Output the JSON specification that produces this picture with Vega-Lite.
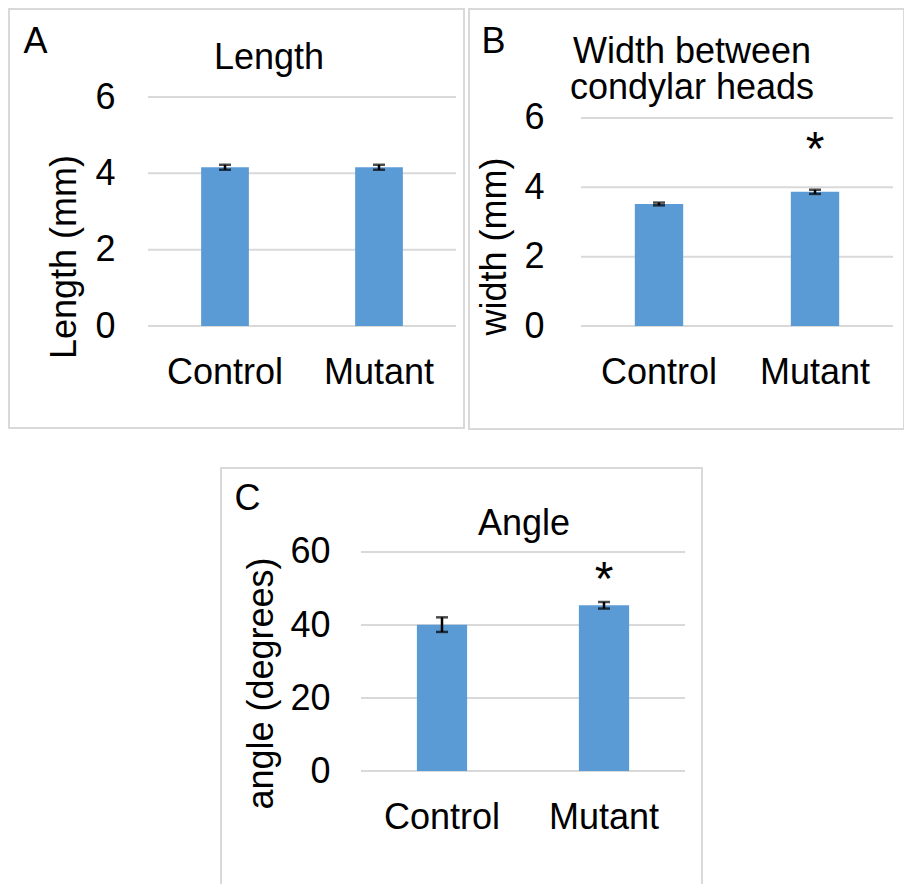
{
  "$schema": "https://vega.github.io/schema/vega-lite/v6.json",
  "padding": {"left": 8, "top": 8, "right": 0, "bottom": 0},
  "background": "white",
  "datasets": {
    "a": [{"group": "Control", "mean": 4.16, "err": 0.065}, {"group": "Mutant", "mean": 4.16, "err": 0.065}],
    "b": [{"group": "Control", "mean": 3.52, "err": 0.04, "sig": ""}, {"group": "Mutant", "mean": 3.87, "err": 0.06, "sig": "*"}],
    "c": [{"group": "Control", "mean": 40.1, "err": 2.0, "sig": ""}, {"group": "Mutant", "mean": 45.4, "err": 0.9, "sig": "*"}],
    "gridAB": [{"v": 0}, {"v": 2}, {"v": 4}, {"v": 6}],
    "gridC": [{"v": 0}, {"v": 20}, {"v": 40}, {"v": 60}]
  },
  "config": {
    "font": "Liberation Sans",
    "view": {"stroke": "#d9d9d9", "strokeWidth": 2},
    "axis": {"labelFontSize": 36, "titleFontSize": 36, "labelColor": "black", "titleColor": "black", "titleFontWeight": "normal", "domain": false, "ticks": false, "tickSize": 0, "labelPadding": 0, "grid": false, "labelFont": "Liberation Sans", "titleFont": "Liberation Sans"},
    "title": {"fontSize": 36, "fontWeight": "normal", "color": "black", "font": "Liberation Sans", "anchor": "middle", "frame": "group", "baseline": "alphabetic"}
  },
  "vconcat": [
    {
      "hconcat": [
        {
          "width": 455, "height": 419,
          "title": {"text": "Length", "dx": 32.5, "offset": -68},
          "layer": [
            {
              "data": {"name": "gridAB"},
              "mark": {"type": "rule", "color": "#d9d9d9", "strokeWidth": 2, "xOffset": -77, "x2Offset": 77},
              "encoding": {
                "x": {"datum": "Control", "type": "nominal", "title": "A"},
                "x2": {"datum": "Mutant"},
                "y": {"field": "v", "type": "quantitative", "title": "Length (mm)"}
              }
            },
            {
              "data": {"name": "a"},
              "mark": {"type": "bar", "color": "#5b9bd5", "width": {"band": 0.31}},
              "encoding": {
                "x": {"field": "group", "type": "nominal", "sort": null,
                  "scale": {"domain": ["Control", "Mutant"], "paddingInner": 0, "paddingOuter": 0.4773, "align": 0.9456},
                  "axis": {"labelAngle": 0, "labelAlign": "center", "labelBaseline": "middle", "offset": -56, "title": "A", "titleFontSize": 36, "titleAlign": "left", "titleBaseline": "alphabetic", "titleAngle": 0, "titleX": 14, "titleY": -320}},
                "y": {"field": "mean", "type": "quantitative",
                  "scale": {"domain": [-2.672, 8.306], "nice": false, "zero": false},
                  "axis": {"values": [0, 2, 4, 6], "offset": -106, "title": "Length (mm)", "titleAngle": -90, "titleAlign": "center", "titleBaseline": "middle", "titleX": -51, "titleY": 247.5}},
                "y2": {"datum": 0}
              }
            },
            {
              "data": {"name": "a"},
              "mark": {"type": "errorbar", "ticks": {"size": 12, "thickness": 2.5, "color": "black"}, "rule": {"strokeWidth": 2.5, "color": "black"}},
              "encoding": {
                "x": {"field": "group", "type": "nominal", "title": "A"},
                "y": {"field": "mean", "type": "quantitative", "title": "Length (mm)"},
                "yError": {"field": "err"}
              }
            }
          ]
        },
        {
          "width": 435, "height": 420,
          "title": {"text": ["Width between", "condylar heads"], "dx": 5.5, "offset": -97.5, "lineHeight": 36},
          "layer": [
            {
              "data": {"name": "gridAB"},
              "mark": {"type": "rule", "color": "#d9d9d9", "strokeWidth": 2, "xOffset": -78, "x2Offset": 78},
              "encoding": {
                "x": {"datum": "Control", "type": "nominal", "title": "B"},
                "x2": {"datum": "Mutant"},
                "y": {"field": "v", "type": "quantitative", "title": "width (mm)"}
              }
            },
            {
              "data": {"name": "b"},
              "mark": {"type": "bar", "color": "#5b9bd5", "width": {"band": 0.31}},
              "encoding": {
                "x": {"field": "group", "type": "nominal", "sort": null,
                  "scale": {"domain": ["Control", "Mutant"], "paddingInner": 0, "paddingOuter": 0.3942, "align": 0.9106},
                  "axis": {"labelAngle": 0, "labelAlign": "center", "labelBaseline": "middle", "offset": -57, "title": "B", "titleFontSize": 36, "titleAlign": "left", "titleBaseline": "alphabetic", "titleAngle": 0, "titleX": 12, "titleY": -320}},
                "y": {"field": "mean", "type": "quantitative",
                  "scale": {"domain": [-2.971, 9.144], "nice": false, "zero": false},
                  "axis": {"values": [0, 2, 4, 6], "offset": -75, "title": "width (mm)", "titleAngle": -90, "titleAlign": "center", "titleBaseline": "middle", "titleX": -50, "titleY": 237}},
                "y2": {"datum": 0}
              }
            },
            {
              "data": {"name": "b"},
              "mark": {"type": "errorbar", "ticks": {"size": 12, "thickness": 2.5, "color": "black"}, "rule": {"strokeWidth": 2.5, "color": "black"}},
              "encoding": {
                "x": {"field": "group", "type": "nominal", "title": "B"},
                "y": {"field": "mean", "type": "quantitative", "title": "width (mm)"},
                "yError": {"field": "err"}
              }
            },
            {
              "data": {"name": "b"},
              "mark": {"type": "text", "fontSize": 48, "baseline": "middle", "dy": -41, "color": "black"},
              "encoding": {
                "x": {"field": "group", "type": "nominal", "title": "B"},
                "y": {"field": "mean", "type": "quantitative", "title": "width (mm)"},
                "text": {"field": "sig"}
              }
            }
          ]
        }
      ],
      "spacing": 3
    },
    {
      "hconcat": [
        {
          "width": 210, "height": 10,
          "view": {"stroke": "transparent"},
          "data": {"values": []},
          "mark": "point"
        },
        {
          "width": 481, "height": 418,
          "title": {"text": "Angle", "dx": 62.5, "offset": -75},
          "layer": [
            {
              "data": {"name": "gridC"},
              "mark": {"type": "rule", "color": "#d9d9d9", "strokeWidth": 2, "xOffset": -81, "x2Offset": 81},
              "encoding": {
                "x": {"datum": "Control", "type": "nominal", "title": "C"},
                "x2": {"datum": "Mutant"},
                "y": {"field": "v", "type": "quantitative", "title": "angle (degrees)"}
              }
            },
            {
              "data": {"name": "c"},
              "mark": {"type": "bar", "color": "#5b9bd5", "width": {"band": 0.31}},
              "encoding": {
                "x": {"field": "group", "type": "nominal", "sort": null,
                  "scale": {"domain": ["Control", "Mutant"], "paddingInner": 0, "paddingOuter": 0.4846, "align": 0.8917},
                  "axis": {"labelAngle": 0, "labelAlign": "center", "labelBaseline": "middle", "offset": -69, "title": "C", "titleFontSize": 36, "titleAlign": "left", "titleBaseline": "alphabetic", "titleAngle": 0, "titleX": 13, "titleY": -308}},
                "y": {"field": "mean", "type": "quantitative",
                  "scale": {"domain": [-31.5, 83.01], "nice": false, "zero": false},
                  "axis": {"values": [0, 20, 40, 60], "offset": -109, "title": "angle (degrees)", "titleAngle": -90, "titleAlign": "center", "titleBaseline": "middle", "titleX": -69, "titleY": 215}},
                "y2": {"datum": 0}
              }
            },
            {
              "data": {"name": "c"},
              "mark": {"type": "errorbar", "ticks": {"size": 12, "thickness": 2.5, "color": "black"}, "rule": {"strokeWidth": 2.5, "color": "black"}},
              "encoding": {
                "x": {"field": "group", "type": "nominal", "title": "C"},
                "y": {"field": "mean", "type": "quantitative", "title": "angle (degrees)"},
                "yError": {"field": "err"}
              }
            },
            {
              "data": {"name": "c"},
              "mark": {"type": "text", "fontSize": 48, "baseline": "middle", "dy": -24.5, "color": "black"},
              "encoding": {
                "x": {"field": "group", "type": "nominal", "title": "C"},
                "y": {"field": "mean", "type": "quantitative", "title": "angle (degrees)"},
                "text": {"field": "sig"}
              }
            }
          ]
        }
      ],
      "spacing": 0
    }
  ],
  "spacing": 37
}
